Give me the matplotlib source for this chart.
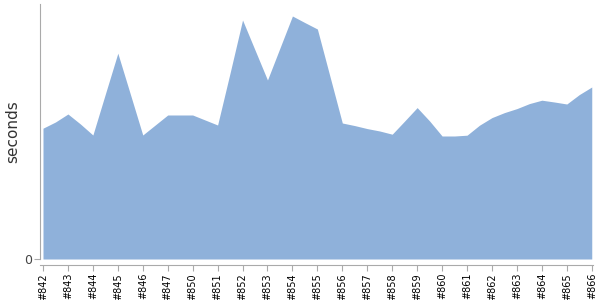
import matplotlib
matplotlib.use("Agg")
import matplotlib.pyplot as plt
import numpy as np

# build labels (every labelled tick), data has one extra run between labels
builds = ['#842', '#843', '#844', '#845', '#846', '#847', '#850', '#851',
          '#852', '#853', '#854', '#855', '#856', '#857', '#858', '#859',
          '#860', '#861', '#862', '#863', '#864', '#865', '#866']

# seconds, one value per run (labelled run, then the unlabelled one after it)
seconds = [65.4, 68.5, 72.5, 67.5, 62.0, 82.5, 102.9, 82.5, 62.0, 67.0,
           72.0, 72.0, 72.0, 69.5, 67.0, 93.0, 119.5, 104.5, 89.5, 105.5,
           121.5, 118.2, 115.0, 91.5, 68.0, 66.7, 65.2, 64.0, 62.4, 69.0,
           75.7, 69.0, 61.5, 61.5, 61.9, 66.9, 70.7, 73.2, 75.2, 77.7,
           79.4, 78.5, 77.5, 82.2, 86.0]

fill_color = '#8FB1DA'
axis_gray = '#AAAAAA'

x = np.arange(len(seconds)) / 2.0

fig = plt.figure(figsize=(6, 3), dpi=100)
ax = fig.add_axes([40 / 600, 41 / 300, 553 / 600, 255 / 300])

ax.fill_between(x, 0, seconds, color=fill_color, linewidth=0)

ax.set_xlim(-0.12, 22.05)
ax.set_ylim(0, 127.5)

ax.spines['top'].set_visible(False)
ax.spines['right'].set_visible(False)
ax.spines['left'].set_color(axis_gray)
ax.spines['bottom'].set_color(axis_gray)
ax.spines['bottom'].set_position(('outward', 4))
ax.tick_params(axis='both', colors=axis_gray, length=4, width=0.8)
ax.tick_params(axis='x', labelcolor='black', pad=2, labelrotation=90, labelsize=7)
ax.tick_params(axis='y', labelcolor='#444444', pad=2, labelsize=9)

ax.set_xticks(np.arange(len(builds)))
ax.set_xticklabels(builds)
ax.set_yticks([0])
ax.set_yticklabels(['0'])

ax.set_ylabel('seconds', fontsize=11, color='#333333')
ax.yaxis.set_label_coords(-0.036, 0.5)

fig.savefig('out.png', dpi=100)
